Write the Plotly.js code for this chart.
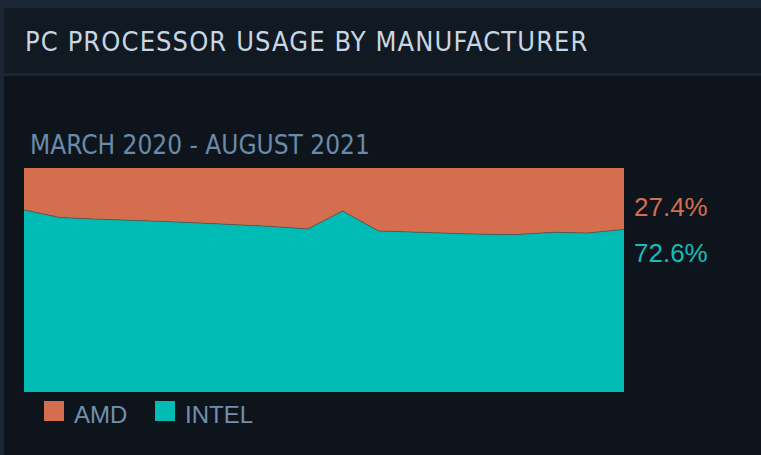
<!DOCTYPE html>
<html>
<head>
<meta charset="utf-8">
<script src="https://cdn.plot.ly/plotly-3.0.1.min.js"></script>
<style>
	html, body { margin: 0; padding: 0; }
	body { width: 761px; height: 455px; background: #1b2635; position: relative; overflow: hidden; }
	#head {
		position: absolute; left: 4px; top: 8px; width: 757px; height: 65px;
		background: #111922;
	}
	#head span {
		position: absolute; left: 21px; top: 20px;
		font-family: "Liberation Sans Narrow", "DejaVu Sans Condensed", "Roboto", sans-serif;
		font-stretch: condensed;
		font-size: 27px; line-height: 27px; color: #c8d6e2;
		letter-spacing: 1.1px;
	}
	#plot { position: absolute; left: 4px; top: 76px; width: 757px; height: 379px; }
</style>
</head>
<body>
<div id="head"><span>PC PROCESSOR USAGE BY MANUFACTURER</span></div>
<div id="plot"></div>
<script>
// March 2020 .. August 2021, one point per month
var months = ['2020-03-01', '2020-04-01', '2020-05-01', '2020-06-01', '2020-07-01', '2020-08-01',
	'2020-09-01', '2020-10-01', '2020-11-01', '2020-12-01', '2021-01-01', '2021-02-01',
	'2021-03-01', '2021-04-01', '2021-05-01', '2021-06-01', '2021-07-01', '2021-08-01'];

// share in percent
var intelShare = [81.3, 77.9, 77.2, 76.8, 76.1, 75.4, 74.8, 73.9, 72.8, 80.8,
	71.9, 71.3, 70.8, 70.4, 70.3, 71.3, 71.0, 72.6];
var amdShare = [18.7, 22.1, 22.8, 23.2, 23.9, 24.6, 25.2, 26.1, 27.2, 19.2,
	28.1, 28.7, 29.2, 29.6, 29.7, 28.7, 29.0, 27.4];

var seriesNames = ['AMD', 'INTEL'];
var amdColor = '#d56e4f';
var intelColor = '#00bcb5';

function drawChart() {
	var plotWidth = 757;
	var plotHeight = 379;
	var m = { l: 20, r: 137, t: 92, b: 63 };
	var areaW = plotWidth - m.l - m.r;
	var areaH = plotHeight - m.t - m.b;

	// pixel (inside the div) -> paper fraction
	function px(x) { return (x - m.l) / areaW; }
	function py(y) { return (plotHeight - m.b - y) / areaH; }

	var intel = {
		x: months,
		y: intelShare,
		name: seriesNames[1],
		mode: 'lines',
		stackgroup: 'one',
		fillcolor: intelColor,
		line: { color: 'rgba(70,85,85,0.7)', width: 1 },
		showlegend: false
	};

	var amd = {
		x: months,
		y: amdShare,
		name: seriesNames[0],
		mode: 'lines',
		stackgroup: 'one',
		fillcolor: amdColor,
		line: { width: 0, color: amdColor },
		showlegend: false
	};

	var last = months.length - 1;
	var labelFont = 'Liberation Sans, Arial, sans-serif';

	var annotations = [
		{
			xref: 'paper', yref: 'paper', x: 1, y: py(131), xshift: 8,
			xanchor: 'left', yanchor: 'middle', showarrow: false,
			text: amdShare[last].toFixed(1) + '%',
			font: { family: labelFont, size: 26, color: amdColor }
		},
		{
			xref: 'paper', yref: 'paper', x: 1, y: py(177), xshift: 8,
			xanchor: 'left', yanchor: 'middle', showarrow: false,
			text: intelShare[last].toFixed(1) + '%',
			font: { family: labelFont, size: 26, color: '#14bdb6' }
		},
		{
			xref: 'paper', yref: 'paper', x: px(68), y: py(338),
			xanchor: 'left', yanchor: 'middle', showarrow: false,
			text: seriesNames[0],
			font: { family: labelFont, size: 24, color: '#7190ad' }
		},
		{
			xref: 'paper', yref: 'paper', x: px(179), y: py(338),
			xanchor: 'left', yanchor: 'middle', showarrow: false,
			text: seriesNames[1],
			font: { family: labelFont, size: 24, color: '#7190ad' }
		}
	];

	var shapes = [
		{
			type: 'rect', xref: 'paper', yref: 'paper',
			x0: px(40), x1: px(60), y0: py(325), y1: py(345),
			fillcolor: amdColor, line: { width: 0 }
		},
		{
			type: 'rect', xref: 'paper', yref: 'paper',
			x0: px(151), x1: px(171), y0: py(325), y1: py(345),
			fillcolor: intelColor, line: { width: 0 }
		}
	];

	var layout = {
		autosize: false,
		width: plotWidth,
		height: plotHeight,
		hovermode: false,
		showlegend: false,
		paper_bgcolor: '#0e141c',
		plot_bgcolor: '#0e141c',
		margin: m,
		title: {
			text: 'MARCH 2020 - AUGUST 2021',
			xref: 'container', yref: 'container',
			x: 26 / plotWidth, xanchor: 'left',
			y: 1 - 69 / plotHeight, yanchor: 'middle',
			font: { family: 'Liberation Sans Narrow, DejaVu Sans Condensed, Roboto, sans-serif', size: 26, color: '#6a8aa8' }
		},
		xaxis: {
			type: 'date',
			range: [months[0], months[last]],
			showgrid: false,
			zeroline: false,
			showline: false,
			showticklabels: false,
			fixedrange: true
		},
		yaxis: {
			range: [0, 100],
			showgrid: false,
			zeroline: false,
			showline: false,
			showticklabels: false,
			fixedrange: true
		},
		annotations: annotations,
		shapes: shapes
	};

	Plotly.newPlot('plot', [intel, amd], layout, { staticPlot: true });
}

drawChart();
</script>
</body>
</html>
